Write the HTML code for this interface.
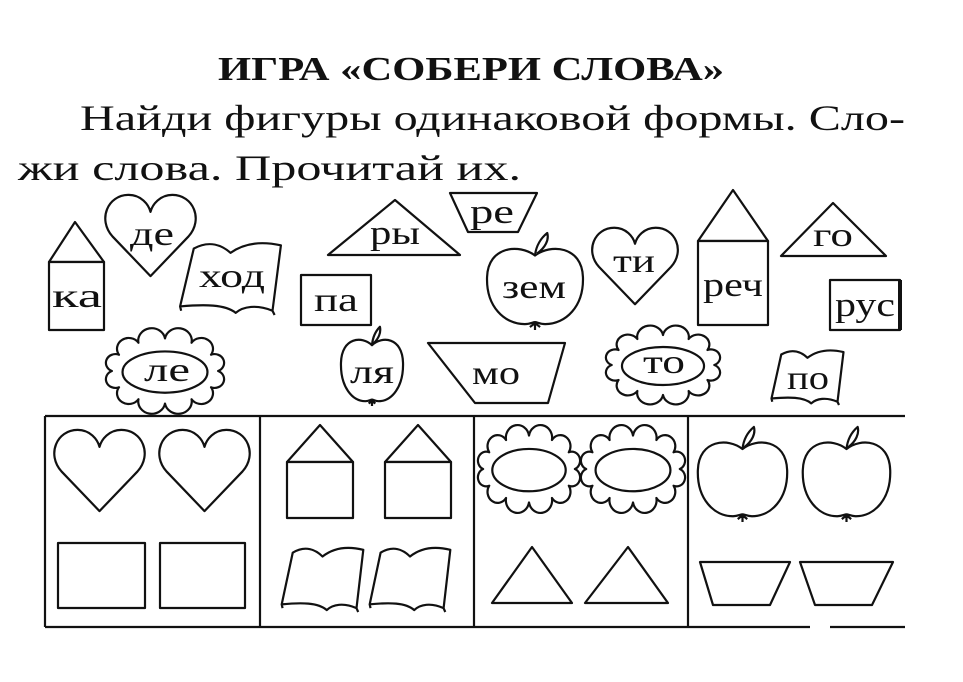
<!DOCTYPE html>
<html><head><meta charset="utf-8"><style>
html,body{margin:0;padding:0;background:#fff;}
svg{display:block}
text{font-family:"Liberation Serif","DejaVu Serif",serif;fill:#111}
.s{fill:none;stroke:#111;stroke-width:2.2;stroke-linejoin:round}
.w{fill:#fff;stroke:#111;stroke-width:2.2;stroke-linejoin:round}
.l{font-size:34px;text-anchor:middle}
</style></head><body>
<svg width="963" height="682" viewBox="0 0 963 682" xmlns="http://www.w3.org/2000/svg">
<defs>
<symbol id="heart" viewBox="0 0 100 90" preserveAspectRatio="none" overflow="visible"><path class="w" vector-effect="non-scaling-stroke" d="M50,88 L10,46 C-6,28 5,2 27,2 C40,2 48,12 50,20 C52,12 60,2 73,2 C95,2 106,28 90,46 Z"/></symbol>
<symbol id="apple" viewBox="0 0 100 100" preserveAspectRatio="none" overflow="visible"><path class="w" vector-effect="non-scaling-stroke" d="M50,24 C35,12 4,14 3,46 C2,76 20,94 40,94 C45,94 48,92 50,92 C52,92 55,94 60,94 C80,94 98,76 97,46 C96,14 65,12 50,24 Z M50,24 C51,14 56,6 62,1 C64,8 60,16 52,22 M50,92 L50,100 M45,97 L50,93 L55,97"/></symbol>
<symbol id="flower" viewBox="0 0 100 70" preserveAspectRatio="none" overflow="visible"><path class="w" vector-effect="non-scaling-stroke" d="M95,35 A8,8 0 0 1 89,50 A8,8 0 0 1 72.5,61 A8,8 0 0 1 50,65 A8,8 0 0 1 27.5,61 A8,8 0 0 1 11,50 A8,8 0 0 1 5,35 A8,8 0 0 1 11,20 A8,8 0 0 1 27.5,9 A8,8 0 0 1 50,5 A8,8 0 0 1 72.5,9 A8,8 0 0 1 89,20 A8,8 0 0 1 95,35 Z"/><ellipse class="w" vector-effect="non-scaling-stroke" cx="50" cy="36" rx="36" ry="19"/></symbol>
<symbol id="book" viewBox="0 0 100 70" preserveAspectRatio="none" overflow="visible"><path class="w" vector-effect="non-scaling-stroke" d="M15,8 C30,0 42,5 50,12 C60,5 75,0 98,5 L90,66 C75,60 62,62 55,68 C45,60 25,60 2,62 Z M90,66 L92,70 M2,62 L3,66"/></symbol>
</defs>

<text x="218" y="80" font-size="34" font-weight="bold" textLength="506" lengthAdjust="spacingAndGlyphs">ИГРА «СОБЕРИ СЛОВА»</text>
<text x="80" y="130" font-size="36" textLength="825" lengthAdjust="spacingAndGlyphs">Найди фигуры одинаковой формы. Сло-</text>
<text x="18" y="180" font-size="36" textLength="503" lengthAdjust="spacingAndGlyphs">жи слова. Прочитай их.</text>

<path class="w" d="M49,262 L75,222 L104,262 Z"/><rect class="w" x="49" y="262" width="55" height="68"/>
<text class="l" x="77" y="307" textLength="50" lengthAdjust="spacingAndGlyphs">ка</text>
<use href="#heart" x="103" y="193" width="95" height="85"/><text class="l" x="152" y="245" textLength="44" lengthAdjust="spacingAndGlyphs">де</text>
<use href="#book" x="178" y="240" width="105" height="75"/><text class="l" x="232" y="287" textLength="66" lengthAdjust="spacingAndGlyphs">ход</text>
<path class="w" d="M328,255 L460,255 L395,200 Z"/><text class="l" x="395" y="244" textLength="50" lengthAdjust="spacingAndGlyphs">ры</text>
<path class="w" d="M450,193 L537,193 L518,232 L468,232 Z"/><text class="l" x="492" y="223" textLength="44" lengthAdjust="spacingAndGlyphs">ре</text>
<rect class="w" x="301" y="275" width="70" height="50"/><text class="l" x="336" y="311" textLength="44" lengthAdjust="spacingAndGlyphs">па</text>
<use href="#apple" x="484" y="232" width="102" height="98"/><text class="l" x="534" y="298" textLength="64" lengthAdjust="spacingAndGlyphs">зем</text>
<use href="#heart" x="590" y="226" width="90" height="80"/><text class="l" x="634" y="272" textLength="42" lengthAdjust="spacingAndGlyphs">ти</text>
<path class="w" d="M698,241 L733,190 L768,241 Z"/><rect class="w" x="698" y="241" width="70" height="84"/><text class="l" x="733" y="296" textLength="60" lengthAdjust="spacingAndGlyphs">реч</text>
<path class="w" d="M781,256 L886,256 L833,203 Z"/><text class="l" x="833" y="246" textLength="40" lengthAdjust="spacingAndGlyphs">го</text>
<rect class="w" x="830" y="280" width="70" height="50"/><line x1="900" y1="280" x2="900" y2="330" stroke="#111" stroke-width="4"/><text class="l" x="865" y="316" textLength="60" lengthAdjust="spacingAndGlyphs">рус</text>
<use href="#flower" x="106" y="333" width="118" height="76"/><text class="l" x="167" y="381" textLength="46" lengthAdjust="spacingAndGlyphs">ле</text>
<use href="#apple" x="339" y="326" width="66" height="80"/><text class="l" x="372" y="383" textLength="44" lengthAdjust="spacingAndGlyphs">ля</text>
<path class="w" d="M428,343 L565,343 L548,403 L475,403 Z"/><text class="l" x="496" y="384" textLength="48" lengthAdjust="spacingAndGlyphs">мо</text>
<use href="#flower" x="606" y="330" width="114" height="70"/><text class="l" x="664" y="373" textLength="42" lengthAdjust="spacingAndGlyphs">то</text>
<use href="#book" x="770" y="348" width="75" height="57"/><text class="l" x="808" y="389" textLength="42" lengthAdjust="spacingAndGlyphs">по</text>

<g stroke="#111" stroke-width="2.2">
<line x1="45" y1="416" x2="905" y2="416"/><line x1="45" y1="627" x2="810" y2="627"/><line x1="830" y1="627" x2="905" y2="627"/>
<line x1="45" y1="416" x2="45" y2="627"/><line x1="260" y1="416" x2="260" y2="627"/><line x1="474" y1="416" x2="474" y2="627"/><line x1="688" y1="416" x2="688" y2="627"/>
</g>
<use href="#heart" x="52" y="428" width="95" height="85"/><use href="#heart" x="157" y="428" width="95" height="85"/>
<rect class="w" x="58" y="543" width="87" height="65"/><rect class="w" x="160" y="543" width="85" height="65"/>
<path class="w" d="M287,462 L320,425 L353,462 Z"/><rect class="w" x="287" y="462" width="66" height="56"/>
<path class="w" d="M385,462 L418,425 L451,462 Z"/><rect class="w" x="385" y="462" width="66" height="56"/>
<use href="#book" x="280" y="545" width="85" height="67"/><use href="#book" x="368" y="545" width="84" height="67"/>
<use href="#flower" x="478" y="430" width="102" height="78"/><use href="#flower" x="581" y="430" width="104" height="78"/>
<path class="w" d="M492,603 L572,603 L532,547 Z"/><path class="w" d="M585,603 L668,603 L628,547 Z"/>
<use href="#apple" x="695" y="426" width="95" height="96"/><use href="#apple" x="800" y="426" width="93" height="96"/>
<path class="w" d="M700,562 L790,562 L770,605 L713,605 Z"/><path class="w" d="M800,562 L893,562 L872,605 L815,605 Z"/>
</svg>
</body></html>
